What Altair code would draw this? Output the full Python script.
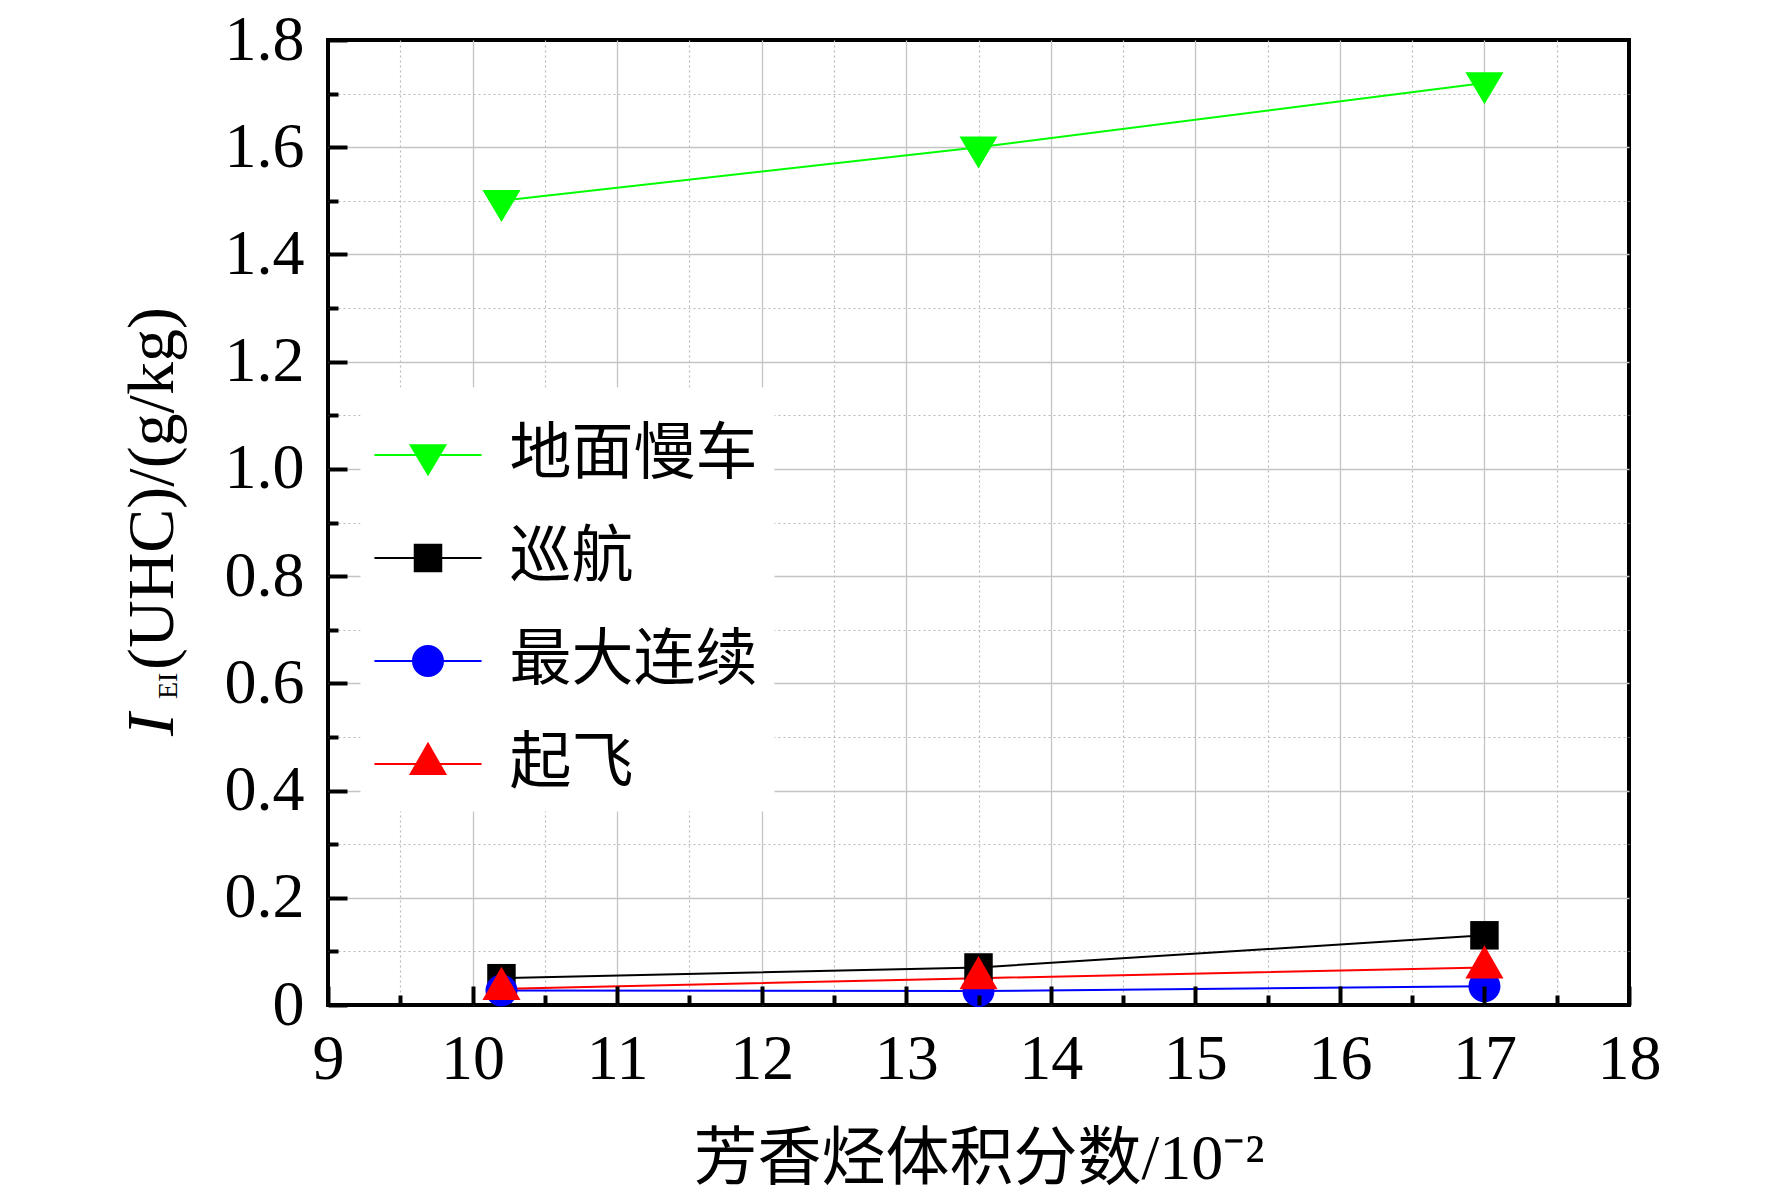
import altair as alt
import pandas as pd

# ---------------- data ----------------
X_VALUES = [10.2, 13.5, 17.0]
SERIES = ["地面慢车", "巡航", "最大连续", "起飞"]
MARKERS = ["triangle-down", "square", "circle", "triangle-up"]
COLORS = ["#00ff00", "#000000", "#0000ff", "#ff0000"]
Y_IDLE = [1.50, 1.60, 1.72]        # 地面慢车
Y_CRUISE = [0.05, 0.07, 0.13]      # 巡航
Y_MAXCONT = [0.027, 0.026, 0.035]  # 最大连续
Y_TAKEOFF = [0.03, 0.05, 0.07]     # 起飞

X_TICKS = [9, 10, 11, 12, 13, 14, 15, 16, 17, 18]
X_MAJOR_GRID = [10, 11, 12, 13, 14, 15, 16, 17]
X_MINOR = [9.5, 10.5, 11.5, 12.5, 13.5, 14.5, 15.5, 16.5, 17.5]
Y_TICKS = [0, 0.2, 0.4, 0.6, 0.8, 1.0, 1.2, 1.4, 1.6, 1.8]
Y_MAJOR_GRID = [0.2, 0.4, 0.6, 0.8, 1.0, 1.2, 1.4, 1.6]
Y_MINOR = [0.1, 0.3, 0.5, 0.7, 0.9, 1.1, 1.3, 1.5, 1.7]

X_TITLE = "芳香烃体积分数/10⁻²"
Y_TITLE_PARTS = ["I", "EI", "(UHC)/(g/kg)"]

# ---------------- styles ----------------
W, H = 1301, 965
SERIF = "Liberation Serif, Times New Roman, serif"
MIXED = "Liberation Serif, Noto Sans CJK SC, serif"
CJK = "Noto Sans CJK SC"

# data marker shapes (centroid-centred), r = sqrt(size)/2 = 16 px
MARKER_PATHS = [
    "M-1.19,-0.67 L1.19,-0.67 L0,1.33 Z",                   # triangle down
    "M-0.89,-0.89 L0.89,-0.89 L0.89,0.89 L-0.89,0.89 Z",     # square
    "M-1,0 A1,1 0 1,1 1,0 A1,1 0 1,1 -1,0 Z",               # circle
    "M0,-1.39 L1.19,0.69 L-1.19,0.69 Z",                    # triangle up
]
# legend symbols: line + marker, r = sqrt(size)/2 = 51.5 px
LEG_LINE = "M-1.04,-0.018 L1.04,-0.018 L1.04,0.018 L-1.04,0.018 Z "
LEGEND_PATHS = [
    LEG_LINE + "M-0.37,-0.208 L0.37,-0.208 L0,0.414 Z",
    LEG_LINE + "M-0.277,-0.277 L0.277,-0.277 L0.277,0.277 L-0.277,0.277 Z",
    LEG_LINE + "M-0.311,0 A0.311,0.311 0 1,1 0.311,0 A0.311,0.311 0 1,1 -0.311,0 Z",
    LEG_LINE + "M0,-0.432 L0.37,0.215 L-0.37,0.215 Z",
]

rows = []
for name, mk, ys in zip(SERIES, MARKERS, [Y_IDLE, Y_CRUISE, Y_MAXCONT, Y_TAKEOFF]):
    for xv, yv in zip(X_VALUES, ys):
        rows.append({"x": xv, "y": yv, "series": name, "marker": mk})
df = pd.DataFrame(rows)

xscale = alt.Scale(domain=[9, 18], nice=False, zero=False)
yscale = alt.Scale(domain=[0, 1.8], nice=False, zero=False)
cscale = alt.Scale(domain=SERIES, range=COLORS)

sym_expr = ""
for name, path in zip(SERIES[:-1], LEGEND_PATHS[:-1]):
    sym_expr += f"datum.value === '{name}' ? '{path}' : "
sym_expr += f"'{LEGEND_PATHS[-1]}'"

base = alt.Chart(df)

# layer A: legend host (invisible points) + minor (dotted) grid
legend_host = base.mark_point(filled=True, size=4, opacity=0).encode(
    x=alt.X("x:Q", scale=xscale, title=None, axis=alt.Axis(
        orient="bottom", values=X_MINOR, labels=False, ticks=False,
        domain=False, grid=True, gridColor="#b8b8b8", gridWidth=1.2,
        gridDash=[2, 3])),
    y=alt.Y("y:Q", scale=yscale, title=None, axis=alt.Axis(
        orient="left", values=Y_MINOR, labels=False, ticks=False,
        domain=False, grid=True, gridColor="#b8b8b8", gridWidth=1.2,
        gridDash=[2, 3])),
    color=alt.Color("series:N", scale=cscale, legend=alt.Legend(
        orient="none", legendX=32.5, legendY=347.5, title=None,
        padding=16, fillColor="white", rowPadding=20,
        labelFont=CJK, labelFontSize=62, labelColor="black", labelOffset=30,
        labelLimit=500, symbolSize=10609, symbolStrokeWidth=0,
        symbolOpacity=1, symbolType=alt.ExprRef(expr=sym_expr))),
)

# layer B: lines + tick labels + x title
lines = base.mark_line(strokeWidth=2).encode(
    x=alt.X("x:Q", scale=xscale, axis=alt.Axis(
        orient="bottom", values=X_TICKS, format="d", title=X_TITLE,
        labelFont=SERIF, labelFontSize=64, labelColor="black", labelPadding=22,
        labelFlush=False, labelOverlap=False,
        ticks=False, domain=False, grid=False,
        titleFont=MIXED, titleFontSize=64, titleFontWeight="normal",
        titleColor="black", titleBaseline="alphabetic", titleY=173)),
    y=alt.Y("y:Q", scale=yscale, axis=alt.Axis(
        orient="left", values=Y_TICKS, title=None,
        labelExpr="datum.value == 0 ? '0' : format(datum.value, '.1f')",
        labelFont=SERIF, labelFontSize=64, labelColor="black", labelPadding=24,
        labelFlush=False, labelOverlap=False,
        ticks=False, domain=False, grid=False)),
    color=alt.Color("series:N", scale=cscale),
)

# layer C: markers + major grid
points = base.mark_point(filled=True, size=1024, opacity=1).encode(
    x=alt.X("x:Q", scale=xscale, title=None, axis=alt.Axis(
        orient="bottom", values=X_MAJOR_GRID, labels=False, ticks=False,
        domain=False, grid=True, gridColor="#c4c4c4", gridWidth=1.3)),
    y=alt.Y("y:Q", scale=yscale, title=None, axis=alt.Axis(
        orient="left", values=Y_MAJOR_GRID, labels=False, ticks=False,
        domain=False, grid=True, gridColor="#c4c4c4", gridWidth=1.3)),
    color=alt.Color("series:N", scale=cscale),
    shape=alt.Shape("marker:N", scale=alt.Scale(domain=MARKERS, range=MARKER_PATHS),
                    legend=None),
)

# layer D: inward major ticks
major_ticks = base.mark_point(opacity=0, size=4).encode(
    x=alt.X("x:Q", scale=xscale, title=None, axis=alt.Axis(
        orient="top", offset=-H, values=X_TICKS, labels=False, domain=False,
        grid=False, ticks=True, tickSize=19, tickWidth=4, tickColor="black",
        zindex=2)),
    y=alt.Y("y:Q", scale=yscale, title=None, axis=alt.Axis(
        orient="right", offset=-W, values=Y_TICKS, labels=False, domain=False,
        grid=False, ticks=True, tickSize=19, tickWidth=4, tickColor="black",
        zindex=2)),
)

# layer E: inward minor ticks
minor_ticks = base.mark_point(opacity=0, size=4).encode(
    x=alt.X("x:Q", scale=xscale, title=None, axis=alt.Axis(
        orient="top", offset=-H, values=X_MINOR, labels=False, domain=False,
        grid=False, ticks=True, tickSize=10, tickWidth=4, tickColor="black",
        zindex=2)),
    y=alt.Y("y:Q", scale=yscale, title=None, axis=alt.Axis(
        orient="right", offset=-W, values=Y_MINOR, labels=False, domain=False,
        grid=False, ticks=True, tickSize=10, tickWidth=4, tickColor="black",
        zindex=2)),
)

# y-axis title pieces: italic I, subscript EI, rest
t_i = alt.Chart(pd.DataFrame({"t": [Y_TITLE_PARTS[0]]})).mark_text(
    angle=270, align="left", baseline="alphabetic", font=SERIF, fontSize=68,
    fontStyle="italic", color="black").encode(
    text="t:N", x=alt.value(-155), y=alt.value(696))
t_sub = alt.Chart(pd.DataFrame({"t": [Y_TITLE_PARTS[1]]})).mark_text(
    angle=270, align="left", baseline="alphabetic", font=SERIF, fontSize=28,
    color="black").encode(
    text="t:N", x=alt.value(-151), y=alt.value(659))
t_main = alt.Chart(pd.DataFrame({"t": [Y_TITLE_PARTS[2]]})).mark_text(
    angle=270, align="left", baseline="alphabetic", font=SERIF, fontSize=66,
    color="black").encode(
    text="t:N", x=alt.value(-155), y=alt.value(630))

chart = alt.layer(
    legend_host, lines, points, major_ticks, minor_ticks, t_i, t_sub, t_main
).resolve_axis(
    x="independent", y="independent"
).properties(
    width=W, height=H,
    autosize=alt.AutoSizeParams(type="none"),
    padding={"left": 320, "top": 32, "right": 135, "bottom": 188},
    background="white",
).configure_view(
    stroke="black", strokeWidth=4
)

chart.save("out.html", embed_options={"renderer": "svg", "actions": False})
